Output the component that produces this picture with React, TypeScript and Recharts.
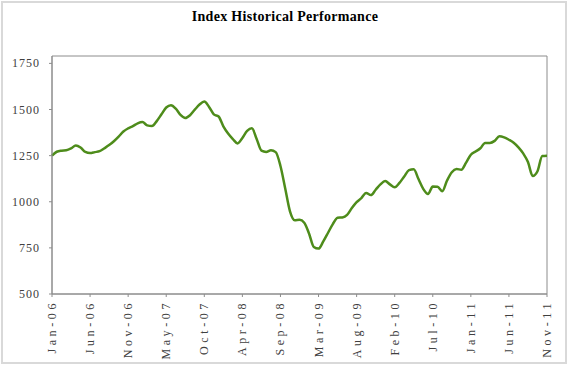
import { Line, LineChart, ReferenceArea, XAxis, YAxis } from "recharts"

const xLabels = [
  "Jan-06", "Jun-06", "Nov-06", "May-07", "Oct-07", "Apr-08", "Sep-08",
  "Mar-09", "Aug-09", "Feb-10", "Jul-10", "Jan-11", "Jun-11", "Nov-11",
]

// readings between two labels
const STEP = 8

const indexValues = [
  1250, 1271, 1277, 1279, 1289, 1305, 1294, 1270, 1264, 1269,
  1274, 1290, 1307, 1328, 1353, 1381, 1398, 1410, 1425, 1432,
  1414, 1410, 1437, 1474, 1511, 1523, 1505, 1471, 1454, 1469,
  1499, 1527, 1543, 1514, 1474, 1462, 1409, 1370, 1340, 1316,
  1346, 1384, 1398, 1340, 1277, 1270, 1279, 1269, 1194, 1072,
  948, 900, 902, 886, 828, 755, 746, 785, 832, 879,
  913, 915, 929, 966, 998, 1020, 1048, 1036, 1065, 1094,
  1112, 1094, 1078, 1102, 1137, 1171, 1176, 1123, 1070, 1042,
  1082, 1081, 1057, 1115, 1160, 1177, 1174, 1212, 1255, 1272,
  1290, 1319, 1319, 1330, 1355, 1349, 1336, 1320, 1295, 1262,
  1215, 1139, 1165, 1248, 1250,
]

const yTicks = [500, 750, 1000, 1250, 1500, 1750]

const data = indexValues.map((v, i) => ({ i, v }))
const lastIndex = indexValues.length - 1
const xTicks = xLabels.map((_, k) => k * STEP)

const FONT = '"Liberation Serif", "Times New Roman", serif'
const AXIS = "#8c8c8c"
const LABEL = "#404040"

function YTick({ x, y, payload }: any) {
  return (
    <text
      x={x}
      y={y}
      dy={4}
      textAnchor="end"
      style={{ fontFamily: FONT, fontSize: 12, letterSpacing: 1 }}
      fill={LABEL}
    >
      {payload.value}
    </text>
  )
}

function XTick({ x, y, payload }: any) {
  const label = xLabels[Math.round(payload.value / STEP)]
  return (
    <text
      x={x}
      y={y}
      dx={-1}
      dy={4}
      transform={`rotate(-90 ${x} ${y})`}
      textAnchor="end"
      style={{ fontFamily: FONT, fontSize: 12, letterSpacing: 3.6 }}
      fill={LABEL}
    >
      {label}
    </text>
  )
}

export default function App() {
  return (
    <div style={{ position: "relative", width: 570, height: 365, background: "#fff" }}>
      <style>{"body{margin:0}"}</style>
      <div
        style={{
          position: "absolute",
          left: 1,
          top: 1,
          width: 566,
          height: 363,
          boxSizing: "border-box",
          border: "2px solid #d9d9d9",
        }}
      />
      <div
        style={{
          position: "absolute",
          top: 9,
          left: 0,
          width: 570,
          textAlign: "center",
          fontFamily: FONT,
          fontWeight: "bold",
          fontSize: 14,
          letterSpacing: 0.3,
          color: "#000",
        }}
      >
        Index Historical Performance
      </div>
      <LineChart
        width={570}
        height={365}
        data={data}
        margin={{ top: 56, right: 23, bottom: 0, left: 0 }}
      >
        <XAxis
          dataKey="i"
          type="number"
          domain={[0, lastIndex]}
          ticks={xTicks}
          interval={0}
          height={71}
          stroke={AXIS}
          tickSize={3}
          tickMargin={2}
          tick={<XTick />}
        />
        <YAxis
          type="number"
          domain={[500, 1790]}
          ticks={yTicks}
          interval={0}
          width={52}
          stroke={AXIS}
          tickSize={3}
          tickMargin={9}
          tick={<YTick />}
          allowDataOverflow
        />
        <ReferenceArea
          x1={0}
          x2={lastIndex}
          y1={500}
          y2={1790}
          fill="none"
          stroke={AXIS}
          strokeWidth={1}
        />
        <Line
          type="monotone"
          dataKey="v"
          stroke="#4e8c1b"
          strokeWidth={2.5}
          dot={false}
          isAnimationActive={false}
        />
      </LineChart>
    </div>
  )
}
